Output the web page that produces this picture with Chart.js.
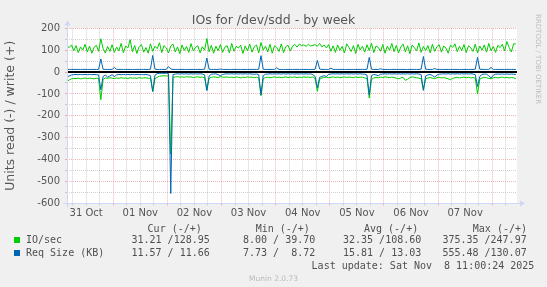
<!DOCTYPE html>
<html>
<head>
<meta charset="utf-8">
<title>IOs for /dev/sdd - by week</title>
<script src="https://cdn.jsdelivr.net/npm/chart.js@4.4.1/dist/chart.umd.min.js"></script>
<style>
    body { margin: 0; background: #f0f0f0; }
    #wrap { position: relative; width: 547px; height: 287px; overflow: hidden; }
    #grafico { position: absolute; left: 0; top: 0; }
    .txt { position: absolute; font: 10px 'DejaVu Sans Mono', monospace; line-height: 10px; color: #505050; white-space: pre; }
    .cor { position: absolute; width: 6px; height: 6px; }
    #rodape { position: absolute; left: 0; width: 547px; top: 274px; text-align: center; font: 7.5px 'DejaVu Sans', sans-serif; color: #bbb; }
    #rrdtool { position: absolute; left: 534px; top: 14px; writing-mode: vertical-rl; font: 7px 'DejaVu Sans', sans-serif; color: #bdbdbd; line-height: 8px; white-space: pre; }
</style>
</head>
<body>
<div id="wrap">
    <canvas id="grafico" width="547" height="287"></canvas>
    <div id="legenda"></div>
    <div id="rrdtool">RRDTOOL / TOBI OETIKER</div>
    <div id="rodape">Munin 2.0.73</div>
</div>
<script>
// hours counted from 31 Oct 00:00, one sample per hour
var primeiraHora = 3.5;
var inicioEixo = 3.5;
var fimEixo = 203;

var dias = ['31 Oct', '01 Nov', '02 Nov', '03 Nov', '04 Nov', '05 Nov', '06 Nov', '07 Nov'];

// IO/sec write (+)
var ioEscrita = [
    118, 112, 124, 97, 121, 89, 115, 100, 127, 92, 119, 86, 113, 122, 95, 152, 108, 87, 117, 94,
    125, 90, 114, 97, 131, 88, 119, 110, 148, 93, 121, 85, 116, 126, 91, 112, 86, 129, 95, 118,
    107, 134, 89, 121, 111, 87, 119, 128, 92, 115, 84, 124, 99, 117, 90, 130, 96, 113, 120, 88,
    116, 100, 153, 93, 122, 86, 118, 98, 126, 90, 114, 121, 87, 131, 95, 117, 110, 123, 85, 119,
    97, 128, 91, 115, 124, 88, 135, 100, 118, 92, 127, 86, 120, 112, 94, 129, 89, 116, 122, 96,
    119, 126, 114, 128, 121, 124, 117, 127, 119, 122, 125, 118, 131, 115, 123, 110, 126, 95, 120, 90,
    124, 99, 117, 87, 129, 112, 94, 121, 85, 127, 101, 118, 91, 125, 98, 132, 89, 119, 113, 95,
    126, 86, 118, 100, 131, 93, 122, 88, 115, 128, 92, 120, 84, 124, 111, 97, 133, 90, 117, 99,
    121, 88, 127, 95, 116, 125, 91, 119, 110, 86, 123, 113, 129, 93, 118, 98, 126, 89, 120, 111,
    94, 128, 87, 119, 100, 124, 91, 131, 97, 117, 90, 122, 112, 127, 96, 140, 113, 92, 129, 128.95
];

// IO/sec read (-)
var ioLeitura = [
    -44, -36, -31, -29, -30, -28, -31, -29, -27, -30, -28, -29, -31, -28, -30, -126, -34, -27, -29, -26,
    -28, -30, -27, -29, -26, -28, -27, -30, -26, -28, -27, -29, -25, -28, -27, -26, -29, -28, -88, -30,
    -24, -19, -18, -17, -18, -17, -375, -24, -22, -21, -23, -22, -24, -21, -23, -22, -25, -23, -22, -24,
    -23, -26, -82, -29, -24, -22, -23, -25, -21, -23, -24, -22, -25, -23, -26, -22, -24, -27, -23, -25,
    -22, -24, -23, -26, -24, -27, -108, -30, -25, -23, -26, -24, -22, -25, -23, -26, -24, -22, -25, -23,
    -24, -22, -26, -23, -25, -22, -24, -23, -25, -22, -30, -88, -33, -27, -25, -23, -26, -24, -22, -25,
    -23, -26, -24, -22, -25, -23, -24, -26, -22, -25, -23, -24, -27, -30, -119, -34, -27, -24, -26, -23,
    -25, -22, -24, -26, -23, -25, -28, -31, -27, -24, -38, -33, -25, -22, -24, -26, -28, -30, -80, -31,
    -27, -25, -28, -30, -26, -24, -27, -25, -28, -31, -35, -29, -26, -24, -27, -25, -23, -26, -24, -27,
    -25, -28, -100, -32, -27, -24, -26, -29, -31, -26, -24, -27, -25, -23, -26, -24, -27, -25, -26, -31.2
];

// Req Size (KB) write (+)
var tamEscrita = [
    12, 12, 12, 12, 12, 12, 12, 12, 12, 12, 12, 12, 12, 12, 12, 60, 13, 12, 12, 12,
    12, 21, 12, 12, 12, 12, 12, 12, 12, 12, 12, 12, 12, 12, 12, 12, 12, 13, 76, 13,
    12, 12, 12, 12, 12, 25, 14, 12, 12, 12, 12, 12, 12, 12, 12, 12, 12, 12, 12, 12,
    12, 13, 64, 13, 12, 12, 12, 12, 14, 12, 12, 12, 12, 12, 12, 12, 12, 12, 12, 12,
    12, 12, 12, 12, 12, 13, 75, 13, 12, 12, 12, 12, 12, 20, 12, 12, 12, 12, 12, 12,
    12, 12, 12, 12, 12, 12, 12, 12, 12, 12, 13, 53, 14, 12, 12, 12, 12, 18, 12, 12,
    12, 12, 12, 12, 12, 12, 12, 12, 12, 12, 12, 12, 12, 13, 67, 13, 12, 12, 12, 15,
    12, 12, 12, 12, 12, 12, 12, 12, 12, 12, 12, 12, 12, 12, 12, 12, 12, 13, 71, 13,
    12, 12, 12, 16, 12, 12, 12, 12, 12, 12, 12, 12, 12, 12, 12, 12, 12, 12, 12, 12,
    12, 13, 67, 13, 12, 12, 12, 12, 21, 12, 12, 12, 12, 12, 12, 12, 12, 12, 12, 11.66
];

// Req Size (KB) read (-)
var tamLeitura = [
    -22, -18, -13, -12, -11, -12, -11, -12, -11, -12, -11, -12, -11, -12, -13, -81, -20, -14, -23, -18,
    -12, -21, -13, -11, -12, -11, -12, -11, -12, -11, -12, -11, -12, -11, -12, -11, -13, -16, -89, -14,
    -7, -6, -5, -6, -5, -7, -555, -12, -9, -8, -9, -8, -9, -8, -9, -8, -9, -8, -9, -8,
    -9, -13, -85, -18, -10, -9, -8, -12, -17, -11, -9, -8, -9, -8, -9, -8, -9, -8, -9, -8,
    -9, -8, -9, -10, -9, -12, -104, -16, -10, -9, -8, -9, -8, -9, -8, -9, -8, -9, -8, -9,
    -8, -9, -8, -9, -8, -9, -8, -9, -8, -12, -20, -72, -24, -20, -16, -21, -10, -9, -8, -9,
    -8, -9, -8, -9, -8, -9, -8, -9, -8, -9, -8, -9, -10, -14, -104, -16, -11, -13, -17, -10,
    -9, -8, -9, -8, -9, -8, -9, -8, -9, -8, -9, -8, -9, -8, -9, -8, -9, -11, -84, -18,
    -13, -11, -16, -23, -14, -10, -9, -8, -9, -8, -9, -8, -9, -8, -9, -8, -9, -8, -9, -8,
    -9, -12, -66, -20, -11, -9, -10, -17, -27, -14, -10, -9, -10, -9, -10, -9, -10, -9, -10, -11.57
];

// legend table
var nomesSeries = ['IO/sec', 'Req Size (KB)'];
var coresSeries = ['#00cc00', '#0066b3'];
var colunas = ['Cur (-/+)', 'Min (-/+)', 'Avg (-/+)', 'Max (-/+)'];
var valoresCur = ['31.21 /128.95', '11.57 / 11.66'];
var valoresMin = ['8.00 / 39.70', '7.73 /  8.72'];
var valoresAvg = ['32.35 /108.60', '15.81 / 13.03'];
var valoresMax = ['375.35 /247.97', '555.48 /130.07'];
var ultimaAtualizacao = 'Last update: Sat Nov  8 11:00:24 2025';

var horas = [];
for (var i = 0; i < ioEscrita.length; i++) {
    horas.push(primeiraHora + i);
}

Chart.defaults.font.family = "'DejaVu Sans', sans-serif";

var corGrade = 'rgba(150,150,150,0.45)';
var corGradeMaior = 'rgba(222,79,79,0.42)';
var corEixo = '#cfd6f8';

var fundoEixos = {
    id: 'fundoEixos',
    beforeDraw: function (chart) {
        var a = chart.chartArea;
        var c = chart.ctx;
        c.save();
        c.fillStyle = '#ffffff';
        c.fillRect(a.left, a.top, a.right - a.left, a.bottom - a.top);
        c.restore();
    },
    beforeDatasetsDraw: function (chart) {
        var a = chart.chartArea;
        var c = chart.ctx;
        var y0 = Math.round(chart.scales.y.getPixelForValue(0));
        c.save();
        c.strokeStyle = '#000000';
        c.lineWidth = 2;
        c.beginPath();
        c.moveTo(a.left, y0);
        c.lineTo(a.right, y0);
        c.stroke();
        c.restore();
    },
    afterDraw: function (chart) {
        var a = chart.chartArea;
        var c = chart.ctx;
        var yb = Math.round(a.bottom) + 0.5;
        var xl = Math.round(a.left) + 0.5;
        c.save();
        c.strokeStyle = corEixo;
        c.fillStyle = corEixo;
        c.lineWidth = 1;
        c.beginPath();
        c.moveTo(a.left - 4, yb);
        c.lineTo(a.right + 4, yb);
        c.moveTo(xl, a.bottom + 4);
        c.lineTo(xl, a.top - 4);
        c.stroke();
        c.beginPath();
        c.moveTo(a.right + 3, yb - 3);
        c.lineTo(a.right + 8, yb);
        c.lineTo(a.right + 3, yb + 3);
        c.closePath();
        c.fill();
        c.beginPath();
        c.moveTo(xl - 3, a.top - 3);
        c.lineTo(xl, a.top - 8);
        c.lineTo(xl + 3, a.top - 3);
        c.closePath();
        c.fill();
        c.restore();
    }
};

var ctx = document.getElementById('grafico').getContext('2d');

var grafico = new Chart(ctx, {
    type: 'line',
    data: {
        labels: horas,
        datasets: [
            { label: 'Req Size (KB) read', data: tamLeitura, borderColor: coresSeries[1], order: 0 },
            { label: 'Req Size (KB) write', data: tamEscrita, borderColor: coresSeries[1], order: 0 },
            { label: 'IO/sec read', data: ioLeitura, borderColor: coresSeries[0], order: 1 },
            { label: 'IO/sec write', data: ioEscrita, borderColor: coresSeries[0], order: 1 }
        ]
    },
    options: {
        responsive: false,
        animation: false,
        layout: { padding: 0 },
        elements: {
            point: { radius: 0 },
            line: { borderWidth: 1, tension: 0, fill: false }
        },
        plugins: {
            legend: { display: false },
            tooltip: { enabled: false },
            title: {
                display: true,
                text: 'IOs for /dev/sdd - by week',
                color: '#555',
                font: { size: 12.5, weight: 'normal' },
                padding: { top: 13, bottom: 0.3 }
            }
        },
        scales: {
            x: {
                type: 'linear',
                min: inicioEixo,
                max: fimEixo,
                afterBuildTicks: function (escala) {
                    var t = [];
                    for (var h = 6; h < fimEixo; h += 6) t.push({ value: h });
                    escala.ticks = t;
                },
                afterFit: function (escala) { escala.height = 83.7; },
                grid: {
                    drawTicks: true,
                    tickLength: 2,
                    lineWidth: 1,
                    color: function (c) { return c.tick && c.tick.value % 24 === 0 ? corGradeMaior : corGrade; },
                    tickColor: function (c) { return c.tick && c.tick.value % 24 === 0 ? corGradeMaior : corGrade; },
                    borderDash: [1, 1]
                },
                border: { display: false, dash: [1, 1] },
                ticks: {
                    autoSkip: false,
                    maxRotation: 0,
                    padding: 2,
                    color: '#555',
                    font: { size: 10 },
                    callback: function (v) {
                        if (v % 24 !== 12) return '';
                        return dias[(v - 12) / 24] || '';
                    }
                }
            },
            y: {
                min: -600,
                max: 200,
                afterBuildTicks: function (escala) {
                    var t = [];
                    for (var v = -600; v <= 200; v += 50) t.push({ value: v });
                    escala.ticks = t;
                },
                afterFit: function (escala) { escala.width = 67; },
                grid: {
                    drawTicks: true,
                    tickLength: 2,
                    lineWidth: 1,
                    color: function (c) { return c.tick && c.tick.value % 100 === 0 ? corGradeMaior : corGrade; },
                    tickColor: function (c) { return c.tick && c.tick.value % 100 === 0 ? corGradeMaior : corGrade; },
                    borderDash: [1, 1]
                },
                border: { display: false, dash: [1, 1] },
                ticks: {
                    autoSkip: false,
                    padding: 5,
                    color: '#555',
                    font: { size: 10 },
                    callback: function (v) { return v % 100 === 0 ? String(v) : ''; }
                },
                title: {
                    display: true,
                    text: 'Units read (-) / write (+)',
                    color: '#555',
                    font: { size: 12.5 },
                    padding: { top: 3, bottom: 0 }
                }
            },
            margemDireita: {
                type: 'linear',
                position: 'right',
                display: true,
                grid: { display: false, drawTicks: false },
                border: { display: false },
                ticks: { display: false },
                afterFit: function (escala) { escala.width = 30; }
            }
        }
    },
    plugins: [fundoEixos]
});

// legend below the plot
function PorTexto(texto, x, yCentro) {
    var s = document.createElement('div');
    s.className = 'txt';
    s.style.left = x + 'px';
    s.style.top = (yCentro - 5) + 'px';
    s.textContent = texto;
    document.getElementById('legenda').appendChild(s);
}

function PorCor(cor, x, yCentro) {
    var s = document.createElement('div');
    s.className = 'cor';
    s.style.left = x + 'px';
    s.style.top = (yCentro - 3) + 'px';
    s.style.background = cor;
    document.getElementById('legenda').appendChild(s);
}

var xColunas = [147.6, 255.7, 364, 472.8];
var xValores = [131.5, 243, 343, 442.4];
var yLinhas = [240.4, 252.9];

for (var k = 0; k < colunas.length; k++) {
    PorTexto(colunas[k], xColunas[k], 228.5);
}
for (var j = 0; j < nomesSeries.length; j++) {
    PorCor(coresSeries[j], 14, yLinhas[j]);
    PorTexto(nomesSeries[j], 26, yLinhas[j]);
    PorTexto(valoresCur[j], xValores[0], yLinhas[j]);
    PorTexto(valoresMin[j], xValores[1], yLinhas[j]);
    PorTexto(valoresAvg[j], xValores[2], yLinhas[j]);
    PorTexto(valoresMax[j], xValores[3], yLinhas[j]);
}
PorTexto(ultimaAtualizacao, 311.6, 265.5);
</script>
</body>
</html>
